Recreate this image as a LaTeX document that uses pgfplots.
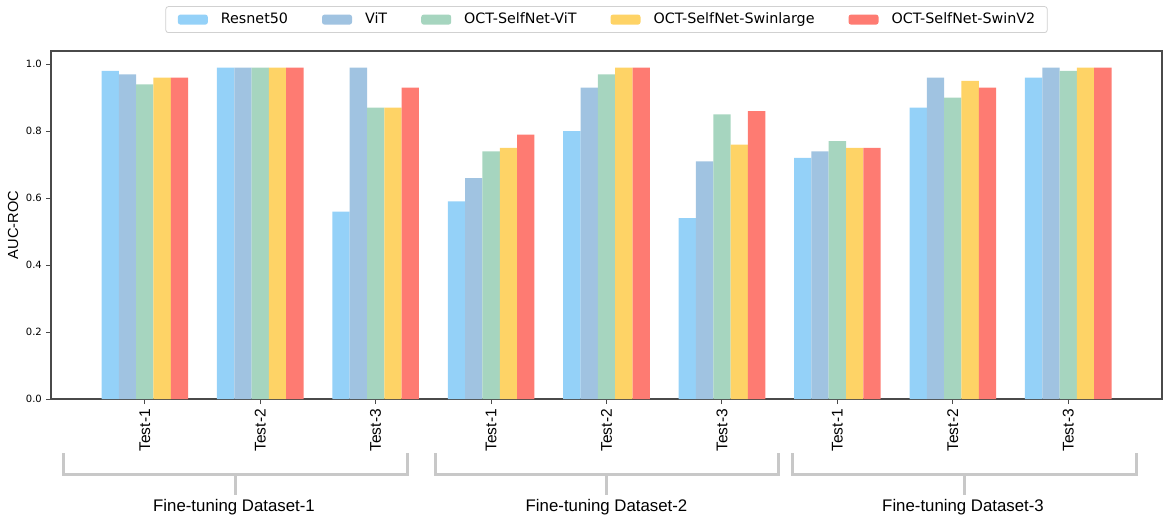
\documentclass[border=0pt]{standalone}
\usepackage{fontspec}
\setmainfont{DejaVu Sans}
\newfontfamily\lib{Liberation Sans}
\usepackage{pgfplots}
\pgfplotsset{compat=1.18}
\definecolor{cres}{HTML}{94D1F8}
\definecolor{cvit}{HTML}{A0C3E1}
\definecolor{csvit}{HTML}{A6D5BF}
\definecolor{cswl}{HTML}{FED366}
\definecolor{cswv}{HTML}{FE7B72}
\definecolor{brk}{HTML}{C8C8C8}
\definecolor{axc}{HTML}{4A4A4A}
\begin{document}
\begin{tikzpicture}[x=1pt,y=1pt]
\useasboundingbox (0,0) rectangle (1169,522);
\begin{axis}[
  at={(51pt,123pt)}, anchor=south west,
  width=1111pt, height=348pt, scale only axis,
  xmin=-0.8125, xmax=8.8125, ymin=0, ymax=1.0395,
  ybar, bar width=0.15,
  /pgf/number format/assume math mode=true,
  xtick={0,1,2,3,4,5,6,7,8},
  xticklabels={Test-1,Test-2,Test-3,Test-1,Test-2,Test-3,Test-1,Test-2,Test-3},
  ytick={0,0.2,0.4,0.6,0.8,1.0},
  yticklabels={0.0,0.2,0.4,0.6,0.8,1.0},
  xtick pos=left, ytick pos=left,
  tick align=outside, major tick length=5pt,
  tick style={axc, line width=1pt},
  axis line style={axc, line width=1.4pt},
  x tick label style={font=\lib\fontsize{15.5}{18}\selectfont, inner sep=0pt, yshift=-5pt, rotate=90, anchor=east},
  y tick label style={font=\fontsize{10}{12}\selectfont, inner sep=0pt, xshift=-4pt},
  ylabel={AUC-ROC},
  ylabel style={font=\lib\fontsize{14.6}{17}\selectfont, at={(axis description cs:-0.0342,0.5)}, anchor=center, rotate=0},
  legend columns=5,
  legend style={at={(0.5,1)}, anchor=south, yshift=18pt, draw=black!18, line width=0.8pt, rounded corners=2.5pt,
    font=\fontsize{14.3}{17}\selectfont, inner xsep=12pt, inner ysep=6pt,
    /tikz/every even column/.append style={column sep=34pt},
    /tikz/every odd column/.append style={column sep=13pt},
    nodes={inner sep=0pt, text height=11pt, text depth=3pt, anchor=west}},
  mylegend/.style={legend image code/.code={\fill[##1] (0pt,-5pt) rectangle (30pt,5pt);}},
]
\addplot[fill=cres, draw=none, bar shift=-0.3, mylegend] coordinates {(0,0.98)(1,0.99)(2,0.56)(3,0.59)(4,0.80)(5,0.54)(6,0.72)(7,0.87)(8,0.96)};
\addplot[fill=cvit, draw=none, bar shift=-0.15, mylegend] coordinates {(0,0.97)(1,0.99)(2,0.99)(3,0.66)(4,0.93)(5,0.71)(6,0.74)(7,0.96)(8,0.99)};
\addplot[fill=csvit, draw=none, bar shift=0, mylegend] coordinates {(0,0.94)(1,0.99)(2,0.87)(3,0.74)(4,0.97)(5,0.85)(6,0.77)(7,0.90)(8,0.98)};
\addplot[fill=cswl, draw=none, bar shift=0.15, mylegend] coordinates {(0,0.96)(1,0.99)(2,0.87)(3,0.75)(4,0.99)(5,0.76)(6,0.75)(7,0.95)(8,0.99)};
\addplot[fill=cswv, draw=none, bar shift=0.3, mylegend] coordinates {(0,0.96)(1,0.99)(2,0.93)(3,0.79)(4,0.99)(5,0.86)(6,0.75)(7,0.93)(8,0.99)};
\legend{Resnet50,ViT,OCT-SelfNet-ViT,OCT-SelfNet-Swinlarge,OCT-SelfNet-SwinV2}
\end{axis}
\begin{scope}[draw=brk, line width=3pt]
\draw (63,69) -- (63,48) -- (407,48) -- (407,69);
\draw (235,48) -- (235,27);
\draw (435,69) -- (435,48) -- (778,48) -- (778,69);
\draw (606.5,48) -- (606.5,27);
\draw (792,69) -- (792,48) -- (1136,48) -- (1136,69);
\draw (964,48) -- (964,27);
\end{scope}
\begin{scope}[every node/.style={font=\lib\fontsize{16.8}{20}\selectfont, inner sep=0pt}]
\node at (234,15) {Fine-tuning Dataset-1};
\node at (606.5,15) {Fine-tuning Dataset-2};
\node at (963,15) {Fine-tuning Dataset-3};
\end{scope}
\end{tikzpicture}
\end{document}
